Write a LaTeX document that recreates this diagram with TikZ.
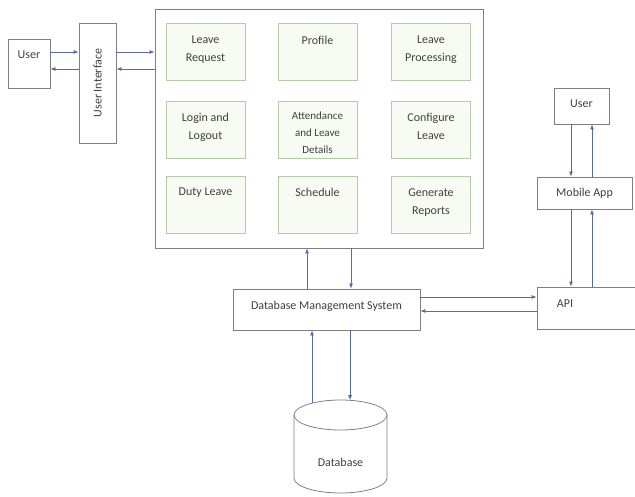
\documentclass[tikz,border=0pt]{standalone}
\usepackage{fontspec}
\setmainfont{Carlito}
\usetikzlibrary{arrows.meta}
\definecolor{arrc}{HTML}{5A68A8}
\definecolor{boxc}{HTML}{7F7F7F}
\definecolor{ibord}{HTML}{B4CCA5}
\definecolor{ifill}{HTML}{F8FBF3}
\definecolor{txt}{HTML}{404040}
\begin{document}
\begin{tikzpicture}[x=1pt,y=-1pt,
  font=\fontsize{12}{18}\selectfont, text=txt,
  box/.style={draw=boxc, line width=0.8pt, fill=white, inner sep=0pt},
  ibox/.style={draw=ibord, fill=ifill, line width=0.8pt, minimum width=79pt, minimum height=57pt, inner sep=0pt},
  itext/.style={anchor=north, align=center, inner sep=0pt},
  arr/.style={draw=arrc, line width=0.8pt, -{Latex[length=5pt,width=4pt]}}]
\useasboundingbox (0,0) rectangle (635,497);

% rows / columns for connectors
\coordinate (ya) at (0,52);
\coordinate (yb) at (0,69);
\coordinate (yc) at (0,297);
\coordinate (yd) at (0,311);
\coordinate (xa) at (307,0);
\coordinate (xb) at (351,0);
\coordinate (xc) at (571,0);
\coordinate (xd) at (592,0);

% left user and UI
\node[box, minimum width=42pt, minimum height=49pt] (user) at (29,63.5) {};
\node[itext] at (29,51) {User};
\node[box, minimum width=37pt, minimum height=120pt] (ui) at (97.5,83) {};
\node[rotate=90, inner sep=0pt] at (97.5,83) {User Interface};

% main box
\node[box, minimum width=328pt, minimum height=239pt] (main) at (319,128.5) {};

\node[ibox] (b1) at (205.5,51.5) {};
\node[itext] at (b1.north) [yshift=-13pt] {Leave\\Request};
\node[ibox] (b2) at (317.5,51.5) {};
\node[itext] at (b2.north) [yshift=-13pt] {Profile};
\node[ibox] (b3) at (431,51.5) {};
\node[itext] at (b3.north) [yshift=-13pt] {Leave\\Processing};

\node[ibox] (b4) at (205.5,130) {};
\node[itext] at (b4.north) [yshift=-12pt] {Login and\\Logout};
\node[ibox] (b5) at (317.5,130) {};
\node[itext, font=\fontsize{11}{17}\selectfont] at (b5.north) [yshift=-11pt] {Attendance\\and Leave\\Details};
\node[ibox] (b6) at (431,130) {};
\node[itext] at (b6.north) [yshift=-12pt] {Configure\\Leave};

\node[ibox] (b7) at (205.5,205) {};
\node[itext] at (b7.north) [yshift=-12pt] {Duty Leave};
\node[ibox] (b8) at (317.5,205) {};
\node[itext] at (b8.north) [yshift=-12pt] {Schedule};
\node[ibox] (b9) at (431,205) {};
\node[itext] at (b9.north) [yshift=-12pt] {Generate\\Reports};

% right side
\node[box, minimum width=55pt, minimum height=36pt] (ruser) at (581.5,106) {};
\node[inner sep=0pt] at (581.5,103.5) {User};
\node[box, minimum width=95pt, minimum height=32pt] (mob) at (584.5,193) {Mobile App};
\node[box, minimum width=106pt, minimum height=42pt] (api) at (590,308) {};
\node[inner sep=0pt] at (565,304) {API};

% DBMS
\node[box, minimum width=187pt, minimum height=41pt] (dbms) at (326.5,309.5) {};
\node[inner sep=0pt] at (326.5,306) {Database Management System};

% database cylinder
\draw[draw=boxc, line width=0.8pt, fill=white] (294,415) -- (294,478) arc[start angle=180, end angle=0, x radius=46.5, y radius=15] -- (387,415);
\draw[draw=boxc, line width=0.8pt] (340.5,415) ellipse [x radius=46.5, y radius=15];
\node[inner sep=0pt] (db) at (340.5,462) {Database};
\coordinate (dbup) at (312,403);
\coordinate (dbdn) at (350,400.2);

% connectors
\draw[arr] (user.east |- ya) -- (ui.west |- ya);
\draw[arr] (ui.east |- ya) -- (main.west |- ya);
\draw[arr] (main.west |- yb) -- (ui.east |- yb);
\draw[arr] (ui.west |- yb) -- (user.east |- yb);

\draw[arr] (xa |- dbms.north) -- (xa |- main.south);
\draw[arr] (xb |- main.south) -- (xb |- dbms.north);

\draw[arr] (dbms.east |- yc) -- (api.west |- yc);
\draw[arr] (api.west |- yd) -- (dbms.east |- yd);

\draw[arr] (dbup) -- (dbup |- dbms.south);
\draw[arr] (dbdn |- dbms.south) -- (dbdn);

\draw[arr] (xc |- ruser.south) -- (xc |- mob.north);
\draw[arr] (xd |- mob.north) -- (xd |- ruser.south);
\draw[arr] (xc |- mob.south) -- (xc |- api.north);
\draw[arr] (xd |- api.north) -- (xd |- mob.south);
\end{tikzpicture}
\end{document}
